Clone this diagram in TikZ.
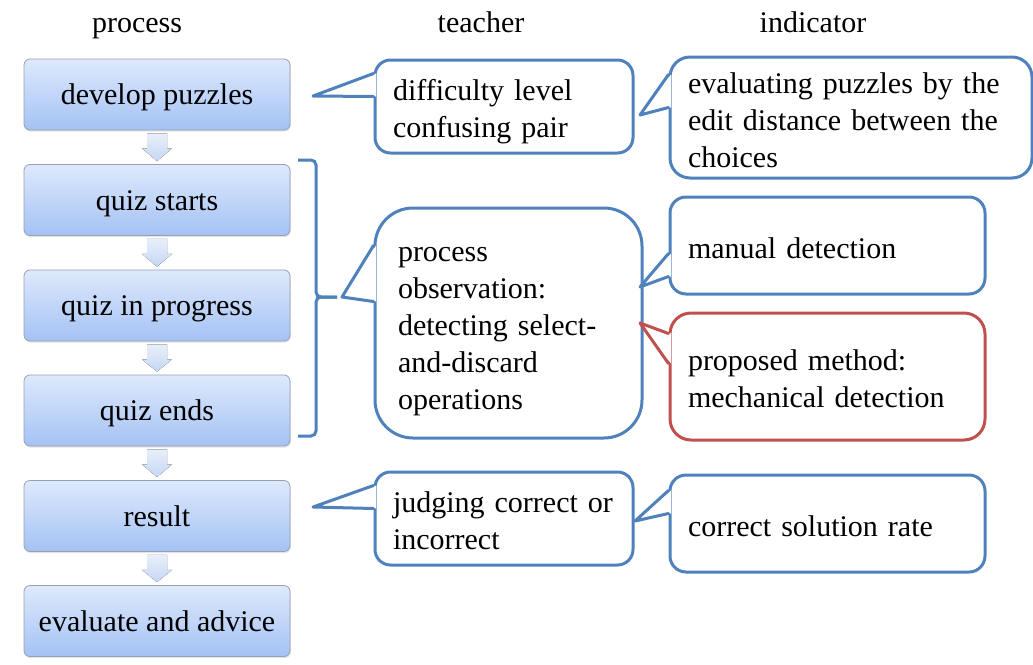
\documentclass[tikz,border=0pt]{standalone}
\usepackage{fontspec}
\setmainfont{Liberation Serif}
\usetikzlibrary{calc,shadows}

\definecolor{cblue}{HTML}{4F81BD}
\definecolor{cred}{HTML}{C0504D}
\definecolor{ptop}{RGB}{222,233,252}
\definecolor{pbot}{RGB}{164,194,244}
\definecolor{pedge}{RGB}{150,160,178}
\definecolor{atop}{RGB}{232,239,251}
\definecolor{abot}{RGB}{198,215,243}

\tikzset{
  % fixed first-line height and last-line depth, so every text sits alike
  evenlines/.style={execute at begin node={\rule{0pt}{#1}},
    execute at end node={\rule[-7pt]{0pt}{7pt}}},
  pbox/.style={rectangle, rounded corners=6pt, draw=pedge, line width=0.8pt,
    top color=ptop, bottom color=pbot, minimum width=266pt, minimum height=71pt,
    inner sep=0pt, evenlines=27pt,
    drop shadow={opacity=0.22, shadow xshift=0.8pt, shadow yshift=-1.6pt}},
  cbox/.style={rectangle, draw=cblue, line width=3pt, fill=white, align=left,
    inner xsep=18pt, inner ysep=0pt, evenlines=32pt},
  head/.style={anchor=base},
  brace/.style={draw=cblue, line width=3pt, rounded corners=5pt},
}

% speech-bubble tail: node, upper/lower offsets below its top edge, tip, colour
\newcommand\bubbletail[5]{%
  \fill[white] ($(#1.north west)+(2.5,#2)$) -- (#4) -- ($(#1.north west)+(2.5,#3)$) -- cycle;
  \draw[#5, line width=3pt, line join=round, line cap=round]
    ($(#1.north west)+(0,#2)$) -- (#4) -- ($(#1.north west)+(0,#3)$);
}

% light block arrow between two process steps
\newcommand\steparrow[2]{%
  \fill[top color=atop, bottom color=abot]
    ($(#1.south)+(-10,3)$) -- ($(#1.south)+(10,3)$) -- ($(#1.south)+(10,18)$)
    -- ($(#1.south)+(15,18)$) -- ($(#2.north)+(0,-3)$) -- ($(#1.south)+(-15,18)$)
    -- ($(#1.south)+(-10,18)$) -- cycle;
}

\begin{document}
\begin{tikzpicture}[x=1pt, y=-1pt, font=\fontsize{30}{37}\selectfont]
\useasboundingbox (0,0) rectangle (1033,664);

% column headings
\node[head] (hproc) at (137,32) {process};
\node[head] (hteach) at (481,32) {teacher};
\node[head] (hind) at (813,32) {indicator};

% process steps
\node[pbox] (dev) at (157,94.5)  {develop puzzles};
\node[pbox] (qs)  at (157,200)   {quiz starts};
\node[pbox] (qp)  at (157,305.5) {quiz in progress};
\node[pbox] (qe)  at (157,410.5) {quiz ends};
\node[pbox] (res) at (157,516)   {result};
\node[pbox] (eva) at (157,621)   {evaluate and advice};

\steparrow{dev}{qs}
\steparrow{qs}{qp}
\steparrow{qp}{qe}
\steparrow{qe}{res}
\steparrow{res}{eva}

% brace grouping the quiz steps
\coordinate (btop) at (298,160);
\coordinate (bmid) at (337,297);
\coordinate (bbot) at (298,436);
\draw[brace] (btop) -- (316,160) -- (316,297) -- (bmid);
\draw[brace] (bmid) -- (316,297) -- (316,436) -- (bbot);

% teacher bubbles
\node[cbox, rounded corners=15.5pt, minimum width=258pt, minimum height=93pt,
  text width=222pt] (tdiff) at (504,106.5) {difficulty level\\confusing pair};
\node[cbox, rounded corners=38pt, minimum width=267pt, minimum height=230pt,
  inner xsep=23pt, text width=221pt] (tobs) at (508.5,323)
  {process\\observation:\\detecting select-\\and-discard\\operations};
\node[cbox, rounded corners=15.5pt, minimum width=258pt, minimum height=93pt,
  text width=222pt] (tjud) at (504,518.5) {judging correct or\\incorrect};

% indicator bubbles
\node[cbox, rounded corners=20pt, minimum width=362pt, minimum height=121pt,
  text width=326pt] (ieval) at (851,117.5)
  {evaluating puzzles by the\\edit distance between the\\choices};
\node[cbox, rounded corners=16pt, minimum width=315pt, minimum height=97pt,
  text width=279pt] (iman) at (827.5,245.5) {manual detection};
\node[cbox, draw=cred, rounded corners=21pt, minimum width=315pt, minimum height=127pt,
  text width=279pt] (iprop) at (827.5,376.5) {proposed method:\\mechanical detection};
\node[cbox, rounded corners=16pt, minimum width=315pt, minimum height=97pt,
  text width=279pt] (irate) at (827.5,523.5) {correct solution rate};

% tail tips
\coordinate (tipdev) at (313,96);
\coordinate (tipres) at (313,507);
\coordinate (tipbrace) at (342,297);
\coordinate (tipdiff) at (640,115);
\coordinate (tipobs1) at (640,287);
\coordinate (tipobs2) at (640,323);
\coordinate (tipjud) at (635,521);

\bubbletail{tdiff}{15}{38}{tipdev}{cblue}
\bubbletail{tobs}{39}{95}{tipbrace}{cblue}
\bubbletail{tjud}{15}{38}{tipres}{cblue}
\bubbletail{ieval}{19}{52}{tipdiff}{cblue}
\bubbletail{iman}{58}{81}{tipobs1}{cblue}
\bubbletail{iprop}{22}{52}{tipobs2}{cred}
\bubbletail{irate}{17}{40}{tipjud}{cblue}
\end{tikzpicture}
\end{document}
